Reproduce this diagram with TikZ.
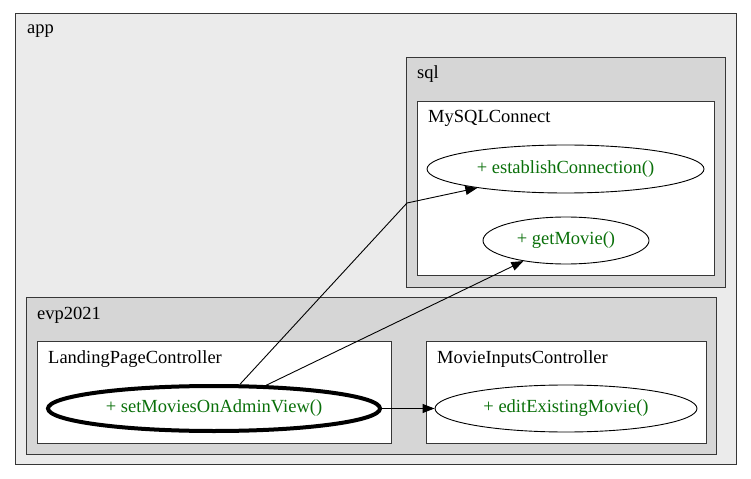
\documentclass[tikz,border=0pt]{standalone}
\usepackage{fontspec}
\setmainfont{Liberation Serif}
\usetikzlibrary{shapes.geometric,arrows.meta}
\definecolor{appfill}{RGB}{235,235,235}
\definecolor{pkgfill}{RGB}{214,214,214}
\definecolor{methodgreen}{RGB}{10,112,10}
\definecolor{edgeline}{RGB}{55,55,55}
\tikzset{
  cluster/.style={draw=edgeline, line width=1bp, rectangle, inner sep=0pt, anchor=north west},
  clabel/.style={anchor=base west, inner sep=0pt, font=\fontsize{18.5bp}{21bp}\selectfont},
  method/.style={draw=black, ellipse, inner sep=0pt, line width=0.9bp, fill=white,
    text=methodgreen, font=\fontsize{18.5bp}{21bp}\selectfont},
  call/.style={draw=black, line width=0.9bp, -{Triangle[length=12bp,width=9bp]}}
}
\begin{document}
\begin{tikzpicture}[x=1bp,y=-1bp]
  \useasboundingbox[fill=white] (0,0) rectangle (751,479);

  % packages and classes
  \node[cluster, fill=appfill, minimum width=721bp, minimum height=451bp] (app) at (15,13) {};
  \node[clabel] (applbl) at (27,34) {app};

  \node[cluster, fill=pkgfill, minimum width=319bp, minimum height=230bp] (sql) at (406,57) {};
  \node[clabel] (sqllbl) at (417,79) {sql};
  \node[cluster, fill=white, minimum width=297bp, minimum height=174bp] (mysql) at (417,101) {};
  \node[clabel] (mysqllbl) at (428,123) {MySQLConnect};

  \node[cluster, fill=pkgfill, minimum width=690bp, minimum height=157bp] (evp) at (26,297) {};
  \node[clabel] (evplbl) at (37,319) {evp2021};
  \node[cluster, fill=white, minimum width=354bp, minimum height=102bp] (landing) at (37,341) {};
  \node[clabel] (landinglbl) at (48,363) {LandingPageController};
  \node[cluster, fill=white, minimum width=280bp, minimum height=102bp] (inputs) at (426,341) {};
  \node[clabel] (inputslbl) at (437,363) {MovieInputsController};

  % methods
  \node[method, minimum width=277bp, minimum height=48bp] (est) at (565.5,169) {+ establishConnection()};
  \node[method, minimum width=166bp, minimum height=47bp] (get) at (566,240.5) {+ getMovie()};
  \node[method, line width=4bp, minimum width=332bp, minimum height=45bp] (set) at (214,408.5) {+ setMoviesOnAdminView()};
  \node[method, minimum width=262bp, minimum height=47bp] (edit) at (566,408.5) {+ editExistingMovie()};

  % calls
  \coordinate (bend) at (407,203);
  \draw[call] (set.43) -- (bend) -- (est);
  \draw[call] (set.24) -- (get);
  \draw[call] (set) -- (edit);
\end{tikzpicture}
\end{document}
